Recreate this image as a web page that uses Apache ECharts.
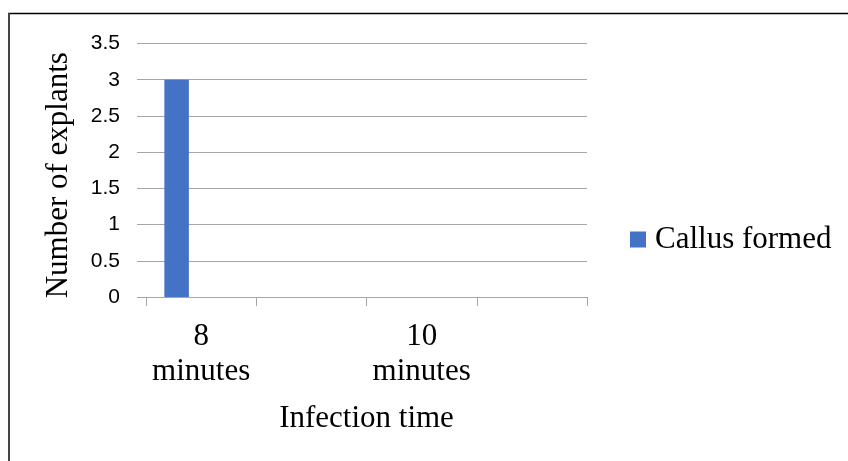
<!DOCTYPE html>
<html><head><meta charset="utf-8">
<script src="https://cdn.jsdelivr.net/npm/echarts@6/dist/echarts.min.js"></script>
<style>html,body{margin:0;padding:0;background:#fff}#c{width:848px;height:461px}</style>
</head><body><div id="c"></div>
<script>
var categories = ['8\nminutes', '', '10\nminutes', ''];
var callusFormed = [3, 0, 0, 0];
var series2 = [0, 0, 0, 0];
var series3 = [0, 0, 0, 0];
var yTicks = [0, 0.5, 1, 1.5, 2, 2.5, 3, 3.5];

var chart = echarts.init(document.getElementById('c'));
var serif = '"Liberation Serif","Times New Roman",serif';
chart.setOption({
  animation: false,
  backgroundColor: '#fff',
  grid: {left: 146, right: 261, top: 43.5, bottom: 164, containLabel: false},
  legend: {
    data: ['Callus formed'],
    left: 630, top: 224, padding: 0,
    itemWidth: 16, itemHeight: 16, itemGap: 10,
    icon: 'rect',
    textStyle: {fontFamily: serif, fontSize: 31, color: '#000', padding: [0, 0, 0, 4]}
  },
  xAxis: {
    type: 'category',
    data: categories,
    name: 'Infection time',
    nameLocation: 'middle',
    nameGap: 106,
    nameTextStyle: {fontFamily: serif, fontSize: 31, color: '#000'},
    axisLine: {lineStyle: {color: '#a6a6a6', width: 1}},
    axisTick: {show: true, length: 9, alignWithLabel: false, lineStyle: {color: '#a6a6a6'}},
    axisLabel: {interval: 0, margin: 22, fontFamily: serif, fontSize: 31, color: '#000', lineHeight: 35}
  },
  yAxis: {
    type: 'value',
    min: yTicks[0], max: yTicks[yTicks.length - 1], interval: 0.5,
    name: 'Number of explants',
    nameLocation: 'middle',
    nameGap: 72,
    nameTextStyle: {fontFamily: serif, fontSize: 31, color: '#000', padding: [0, 10, 0, 0]},
    axisLine: {show: false},
    axisTick: {show: true, inside: false, length: 9, lineStyle: {color: '#a6a6a6'}},
    splitLine: {lineStyle: {color: '#a6a6a6', width: 1}},
    axisLabel: {margin: 26, fontFamily: '"Liberation Sans", Arial, sans-serif', fontSize: 21, color: '#000'}
  },
  series: [
    {name: 'Callus formed', type: 'bar', data: callusFormed, barGap: '0%', barCategoryGap: '33.3%', itemStyle: {color: '#4472c4'}},
    {name: 's2', type: 'bar', data: series2, itemStyle: {color: '#ed7d31'}},
    {name: 's3', type: 'bar', data: series3, itemStyle: {color: '#a5a5a5'}}
  ],
  graphic: [
    {type: 'line', shape: {x1: 8, y1: 13.5, x2: 848, y2: 13.5}, style: {stroke: '#000', lineWidth: 1.5}},
    {type: 'line', shape: {x1: 9, y1: 13, x2: 9, y2: 461}, style: {stroke: '#444', lineWidth: 2}}
  ]
});
</script></body></html>
